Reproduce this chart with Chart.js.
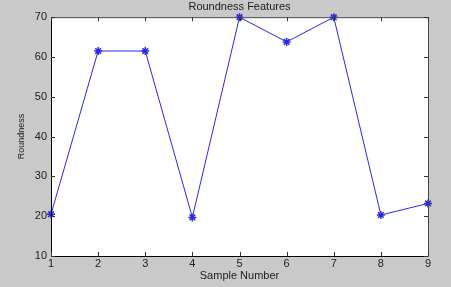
<!DOCTYPE html>
<html><head><meta charset="utf-8">
<script src="https://cdn.jsdelivr.net/npm/chart.js@4/dist/chart.umd.min.js"></script>
<style>html,body{margin:0;padding:0;background:#c9c9c9;}#wrap{width:451px;height:287px;}</style>
</head><body><div id="wrap"><canvas id="c" width="451" height="287"></canvas></div>
<script>
const sampleNumbers = [1, 2, 3, 4, 5, 6, 7, 8, 9];
const roundness = [20.5, 61.5, 61.5, 19.7, 70, 63.8, 70, 20.3, 23.2];
const xTicks = [1, 2, 3, 4, 5, 6, 7, 8, 9];
const yTicks = [10, 20, 30, 40, 50, 60, 70];

const bgPlugin = {
  id: 'bg',
  beforeDraw(chart) {
    const {ctx, chartArea: a} = chart;
    ctx.save();
    ctx.fillStyle = '#c9c9c9';
    ctx.fillRect(0, 0, chart.width, chart.height);
    ctx.fillStyle = '#ffffff';
    ctx.fillRect(a.left, a.top, a.right - a.left, a.bottom - a.top);
    ctx.restore();
  },
  afterDatasetsDraw(chart) {
    const {ctx, chartArea: a, scales} = chart;
    ctx.save();
    ctx.lineWidth = 1;
    ctx.strokeStyle = '#444';
    ctx.beginPath();
    ctx.moveTo(a.left, a.top + 0.5); ctx.lineTo(a.right + 0.5, a.top + 0.5);
    ctx.lineTo(a.right + 0.5, a.bottom);
    ctx.stroke();
    ctx.strokeStyle = '#000';
    ctx.beginPath();
    ctx.moveTo(a.left + 0.5, a.top); ctx.lineTo(a.left + 0.5, a.bottom + 0.5);
    ctx.lineTo(a.right + 0.5, a.bottom + 0.5);
    ctx.stroke();
    ctx.strokeStyle = '#333';
    ctx.beginPath();
    const tl = 4;
    xTicks.forEach(v => {
      const x = Math.round(scales.x.getPixelForValue(v)) + 0.5;
      ctx.moveTo(x, a.bottom); ctx.lineTo(x, a.bottom - tl);
      ctx.moveTo(x, a.top); ctx.lineTo(x, a.top + tl);
    });
    yTicks.forEach(v => {
      const y = Math.round(scales.y.getPixelForValue(v)) + 0.5;
      ctx.moveTo(a.left, y); ctx.lineTo(a.left + tl, y);
      ctx.moveTo(a.right, y); ctx.lineTo(a.right - tl, y);
    });
    ctx.stroke();
    ctx.restore();
  }
};

new Chart(document.getElementById('c'), {
  type: 'line',
  data: {
    datasets: [{
      data: sampleNumbers.map((x, i) => ({x: x, y: roundness[i]})),
      borderColor: '#2a2ae0',
      backgroundColor: '#2a2ae0',
      borderWidth: 1,
      pointStyle: 'star',
      pointRadius: 4,
      pointBorderWidth: 1.5,
      tension: 0,
      clip: false
    }]
  },
  options: {
    responsive: false,
    animation: false,
    devicePixelRatio: 1,
    layout: {padding: {left: 0, right: 23, top: 0, bottom: 0}},
    plugins: {
      legend: {display: false},
      tooltip: {enabled: false},
      title: {
        display: true,
        fullSize: false,
        text: 'Roundness Features',
        color: '#222',
        font: {family: 'Liberation Sans', size: 11, weight: 'normal'},
        padding: {top: 0, bottom: 4}
      }
    },
    scales: {
      x: {
        type: 'linear', min: 1, max: 9,
        afterFit(s) { s.height = 31; },
        afterBuildTicks(s) { s.ticks = xTicks.map(v => ({value: v})); },
        grid: {display: false, drawTicks: false},
        border: {display: false},
        ticks: {color: '#222', padding: 1, font: {family: 'Liberation Sans', size: 11}, maxRotation: 0},
        title: {display: true, text: 'Sample Number', color: '#222', padding: {top: 0, bottom: 4},
          font: {family: 'Liberation Sans', size: 11}}
      },
      y: {
        min: 10, max: 70,
        afterFit(s) { s.width = 51; },
        afterBuildTicks(s) { s.ticks = yTicks.map(v => ({value: v})); },
        grid: {display: false, drawTicks: false},
        border: {display: false},
        ticks: {color: '#222', padding: 4, font: {family: 'Liberation Sans', size: 11}},
        title: {display: true, text: 'Roundness', color: '#222', padding: {top: 16, bottom: 0},
          font: {family: 'Liberation Sans', size: 9}}
      }
    }
  },
  plugins: [bgPlugin]
});
</script></body></html>
